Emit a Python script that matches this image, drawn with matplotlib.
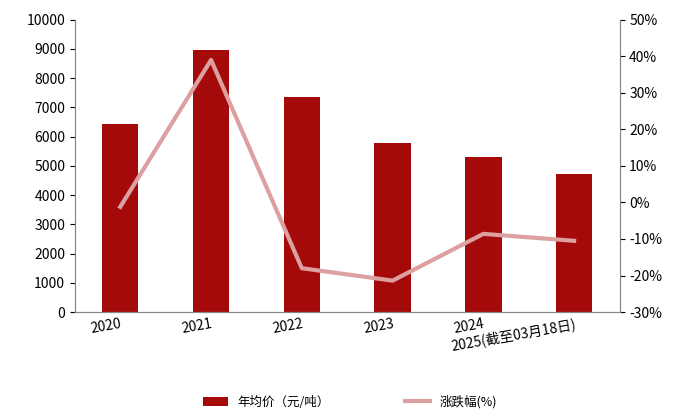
import matplotlib.pyplot as plt
import numpy as np

plt.rcParams['font.family'] = ['Noto Sans CJK SC', 'DejaVu Sans']

years = ['2020', '2021', '2022', '2023', '2024', '2025(截至03月18日)']
price = [6440, 8970, 7360, 5790, 5310, 4730]
change = [-1.2, 39.0, -18.0, -21.4, -8.6, -10.5]

fig, ax = plt.subplots(figsize=(7, 4.2), dpi=100)
fig.subplots_adjust(left=0.107, right=0.885, top=0.953, bottom=0.257)
x = np.arange(len(years))
ax.bar(x, price, width=0.4, color='#A50A0A', label='年均价（元/吨）')
ax.set_ylim(0, 10000)
ax.set_yticks(range(0, 10001, 1000))
ax.set_xlim(-0.5, len(years) - 0.5)
ax.set_xticks(x)
ax.set_xticklabels(years, rotation=10, ha='right', rotation_mode='anchor', fontsize=10)
ax.tick_params(axis='y', labelsize=10)
ax.tick_params(axis='x', length=0)

ax2 = ax.twinx()
ax2.plot(x, change, color='#DDA0A0', lw=3, label='涨跌幅(%)')
ax2.set_ylim(-30, 50)
ax2.set_yticks(range(-30, 51, 10))
ax2.set_yticklabels([f'{v}%' for v in range(-30, 51, 10)])
ax2.tick_params(axis='y', labelsize=10)

for a in (ax, ax2):
    a.spines['top'].set_visible(False)
    for s in a.spines.values():
        s.set_color('#888888')

h1, l1 = ax.get_legend_handles_labels()
h2, l2 = ax2.get_legend_handles_labels()
fig.legend(h1 + h2, l1 + l2, loc='lower center', ncol=2, frameon=False,
           bbox_to_anchor=(0.5, 0.0), fontsize=9, columnspacing=6)
fig.savefig('out.png')
